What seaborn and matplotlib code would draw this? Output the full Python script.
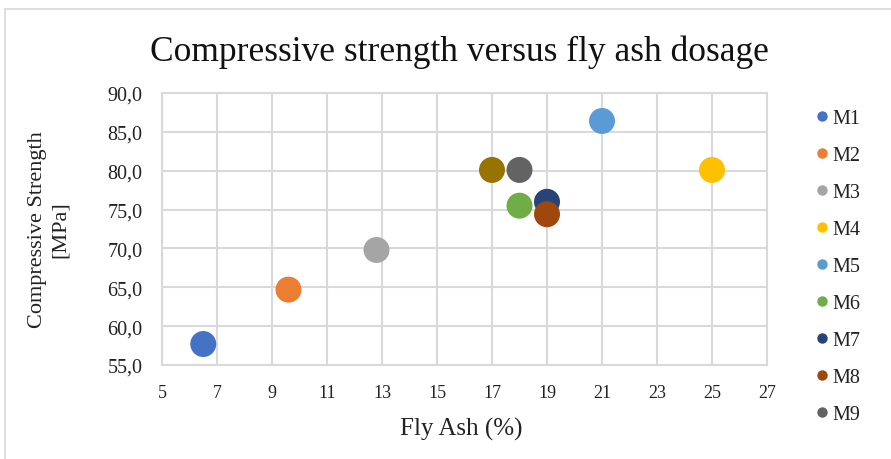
import matplotlib
matplotlib.use("Agg")
import matplotlib.pyplot as plt
from matplotlib.patches import Rectangle
from matplotlib.lines import Line2D
import pandas as pd
import seaborn as sns

# Mix designs and measured values
mixes = ["M1", "M2", "M3", "M4", "M5", "M6", "M7", "M8", "M9", "M10"]
fly_ash = [6.5, 9.6, 12.8, 25.0, 21.0, 18.0, 19.0, 19.0, 18.0, 17.0]
strength = [57.7, 64.7, 69.8, 80.1, 86.4, 75.5, 76.0, 74.4, 80.1, 80.1]
colors = ["#4472C4", "#ED7D31", "#A5A5A5", "#FFC000", "#5B9BD5",
          "#70AD47", "#264478", "#9E480E", "#636363", "#997300"]
legend_mixes = mixes[:9]

x_ticks = [5, 7, 9, 11, 13, 15, 17, 19, 21, 23, 25, 27]
y_ticks = [55, 60, 65, 70, 75, 80, 85, 90]

df = pd.DataFrame({"Mix": mixes, "FlyAsh": fly_ash, "Strength": strength})

sns.set_theme(style="white")
plt.rcParams["font.family"] = ["Liberation Serif", "DejaVu Serif"]

W, H = 891, 460
fig = plt.figure(figsize=(W / 100, H / 100), dpi=100)
ax = fig.add_axes([162 / W, 1 - 366 / H, (767 - 162) / W, (366 - 94) / H])

# Chart frame
fig.patches.append(Rectangle((5 / W, -0.1), 1.2, 1 - 10 / H + 0.1,
                             transform=fig.transFigure, fill=False,
                             edgecolor="#d9d9d9", linewidth=1.2))

sns.scatterplot(data=df, x="FlyAsh", y="Strength", hue="Mix",
                palette=dict(zip(mixes, colors)), s=350, linewidth=0,
                legend=False, ax=ax, zorder=3)

ax.set_xlim(5, 27)
ax.set_ylim(55, 90)
ax.set_xticks(x_ticks)
ax.set_yticks(y_ticks)
ax.set_yticklabels([f"{v:.1f}".replace(".", ",") for v in y_ticks])
ax.tick_params(axis="both", length=0, colors="#222222")
ax.tick_params(axis="x", pad=14, labelsize=13)
ax.tick_params(axis="y", pad=14, labelsize=14.5)
ax.grid(True, color="#d9d9d9", linewidth=1.5)
for sp in ax.spines.values():
    sp.set_color("#d9d9d9")
    sp.set_linewidth(1.5)
ax.set_xlabel("")
ax.set_ylabel("")

fig.text(461 / W, 1 - 429 / H, "Fly Ash (%)", ha="center", va="center",
         fontsize=18, color="#222222")
fig.text(49 / W, 1 - 230 / H, "Compressive Strength\n[MPa]", rotation=90,
         ha="center", va="center", multialignment="center",
         fontsize=16, linespacing=1.25, color="#222222")

fig.text(459 / W, 1 - 61 / H, "Compressive strength versus fly ash dosage",
         ha="center", va="baseline", fontsize=25.5, color="#111111")

handles = [Line2D([0], [0], marker="o", linestyle="none", markersize=7.5,
                  markerfacecolor=c, markeredgewidth=0)
           for c in colors[:9]]
fig.legend(handles, legend_mixes, loc="upper left",
           bbox_to_anchor=(804 / W, 1 - 102 / H), frameon=False,
           fontsize=14.5, handletextpad=0.0, labelspacing=0.886,
           handlelength=1.0, borderaxespad=0, labelcolor="#222222")

fig.savefig("out.png", dpi=100)
